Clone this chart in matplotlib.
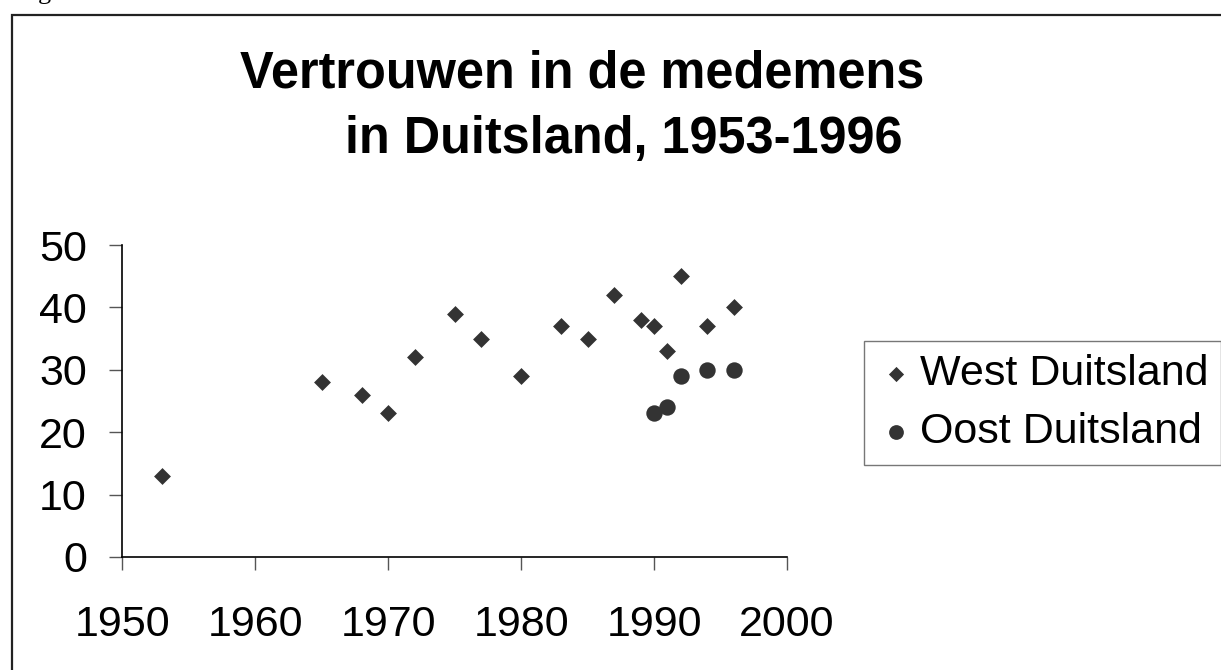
import matplotlib
matplotlib.use('Agg')
import matplotlib.pyplot as plt
from matplotlib.patches import Rectangle

# data
west_years = [1953, 1965, 1968, 1970, 1972, 1975, 1977, 1980, 1983, 1985,
              1987, 1989, 1990, 1991, 1992, 1994, 1996]
west_vals = [13, 28, 26, 23, 32, 39, 35, 29, 37, 35,
             42, 38, 37, 33, 45, 37, 40]
east_years = [1990, 1991, 1992, 1994, 1996]
east_vals = [23, 24, 29, 30, 30]
x_ticks = [1950, 1960, 1970, 1980, 1990, 2000]
y_ticks = [0, 10, 20, 30, 40, 50]
title1 = 'Vertrouwen in de medemens'
title2 = 'in Duitsland, 1953-1996'

plt.rcParams['font.family'] = ['Liberation Sans', 'DejaVu Sans']

W, H = 1221, 670
fig = plt.figure(figsize=(W / 100, H / 100), dpi=100)

# outer chart frame (cut off at right and bottom)
fig.patches.append(Rectangle((12 / W, -0.2), 1.2, 1.2 - 15 / H, fill=False,
                             ec='#222222', lw=1.6, transform=fig.transFigure))
# tiny piece of a caption above the frame
fig.text(38 / W, 1 + 1.5 / H, 'g', fontsize=19, family='Liberation Serif',
         va='baseline', ha='left')

ax = fig.add_axes([122.3 / W, 1 - 557 / H, (787 - 122.3) / W, (557 - 245) / H])
ax.scatter(west_years, west_vals, marker='D', s=8.6 ** 2, color='#333333',
           lw=0, label='West Duitsland', clip_on=False, zorder=3)
ax.scatter(east_years, east_vals, marker='o', s=11.8 ** 2, color='#333333',
           lw=0, label='Oost Duitsland', clip_on=False, zorder=3)

ax.set_xlim(1950, 2000)
ax.set_ylim(0, 50)
ax.set_xticks(x_ticks)
ax.set_yticks(y_ticks)
for s in ['top', 'right']:
    ax.spines[s].set_visible(False)
for s in ['left', 'bottom']:
    ax.spines[s].set_linewidth(1.2)
    ax.spines[s].set_color('black')
ax.tick_params(axis='both', direction='out', length=9.5, width=1.0,
               color='#555555', labelsize=31)
ax.tick_params(axis='x', pad=25)
ax.tick_params(axis='y', pad=16)

fig.text(240 / W, 1 - 49 / H, title1, fontsize=36.4, fontweight='bold',
         ha='left', va='top')
fig.text(345 / W, 1 - 115 / H, title2, fontsize=36.4, fontweight='bold',
         ha='left', va='top')

leg = fig.legend(loc='upper left', bbox_to_anchor=(864 / W, 1 - 341 / H),
                 fontsize=31, frameon=True, fancybox=False, edgecolor='#555555',
                 borderpad=0.3, handletextpad=0.1, handlelength=0.9,
                 labelspacing=0.43, borderaxespad=0, markerscale=0.9)
leg.get_frame().set_linewidth(1.0)

fig.savefig('out.png', dpi=100)
